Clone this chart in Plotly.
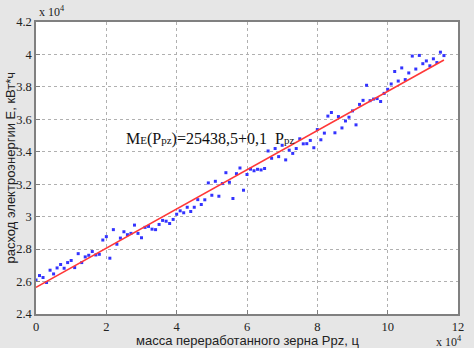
import plotly.graph_objects as go

# Values read in units of 10^4
mass_1e4 = [round(i * 0.1, 1) for i in range(117)]
energy_1e4 = [
    2.610, 2.637, 2.625, 2.594, 2.670, 2.647, 2.684, 2.705, 2.682, 2.717,
    2.730, 2.686, 2.772, 2.717, 2.752, 2.762, 2.785, 2.764, 2.768, 2.856,
    2.877, 2.744, 2.920, 2.830, 2.868, 2.907, 2.889, 2.897, 2.948, 2.897,
    2.870, 2.934, 2.940, 2.923, 2.920, 2.952, 2.977, 2.972, 2.958, 2.983,
    3.015, 3.036, 3.024, 3.058, 3.032, 3.058, 3.105, 3.075, 3.104, 3.208,
    3.132, 3.218, 3.126, 3.204, 3.271, 3.212, 3.112, 3.265, 3.300, 3.163,
    3.260, 3.293, 3.283, 3.292, 3.288, 3.297, 3.405, 3.360, 3.420, 3.370,
    3.440, 3.350, 3.410, 3.390, 3.420, 3.480, 3.449, 3.450, 3.470, 3.425,
    3.537, 3.474, 3.515, 3.620, 3.642, 3.517, 3.617, 3.547, 3.590, 3.613,
    3.652, 3.566, 3.692, 3.717, 3.810, 3.715, 3.725, 3.728, 3.710, 3.760,
    3.785, 3.818, 3.895, 3.836, 3.917, 3.845, 3.886, 3.990, 3.910, 3.994,
    3.943, 3.960, 3.930, 3.973, 3.950, 4.014, 3.993,
]
mass = [v * 1e4 for v in mass_1e4]
energy = [v * 1e4 for v in energy_1e4]

fit_x = [0, 116000]
fit_y = [25640, 39660]

x_ticks = [0, 20000, 40000, 60000, 80000, 100000, 120000]
x_ticklabels = ["0", "2", "4", "6", "8", "10", "12"]
y_ticks = [24000, 26000, 28000, 30000, 32000, 34000, 36000, 38000, 40000, 42000]
y_ticklabels = ["2.4", "2.6", "2.8", "3", "3.2", "3.4", "3.6", "3.8", "4", "4.2"]

fig = go.Figure()
fig.add_trace(go.Scatter(x=mass, y=energy, mode="markers",
                         marker=dict(color="#3333ff", size=3, symbol="square"),
                         showlegend=False))
fig.add_trace(go.Scatter(x=fit_x, y=fit_y, mode="lines",
                         line=dict(color="#ff3838", width=1.6),
                         showlegend=False))

tickfont = dict(family="Liberation Serif", size=12.5, color="#222")
fig.update_layout(
    width=474, height=348,
    margin=dict(l=36, r=10, t=22, b=34),
    paper_bgcolor="#e6e6e6", plot_bgcolor="white",
    xaxis=dict(range=[0, 120000], tickvals=x_ticks, ticktext=x_ticklabels,
               showgrid=True, gridcolor="#b0b0b0", griddash="dot", gridwidth=1,
               zeroline=False, showline=True, linecolor="#808080", linewidth=1.5,
               mirror=True, ticks="inside", ticklen=4, tickcolor="#808080",
               tickfont=tickfont),
    yaxis=dict(range=[24000, 42000], tickvals=y_ticks, ticktext=y_ticklabels,
               showgrid=True, gridcolor="#b0b0b0", griddash="dot", gridwidth=1,
               zeroline=False, showline=True, linecolor="#808080", linewidth=1.5,
               mirror=True, ticks="inside", ticklen=4, tickcolor="#808080",
               tickfont=tickfont),
)

fig.add_annotation(text="масса переработанного зерна Ppz, ц", xref="paper", yref="paper",
                   x=0.5, y=0, yshift=-17, showarrow=False, yanchor="top",
                   font=dict(family="Liberation Sans", size=13, color="#222"))
fig.add_annotation(text="расход электроэнергии E, кВт*ч", xref="paper", yref="paper",
                   x=0, xshift=-17, y=0.5, textangle=-90, showarrow=False,
                   xanchor="right",
                   font=dict(family="Liberation Sans", size=13, color="#222"))
fig.add_annotation(text="x 10<sup>4</sup>", xref="paper", yref="paper",
                   x=0, y=1, xshift=1, yshift=1, xanchor="left", yanchor="bottom",
                   showarrow=False,
                   font=dict(family="Liberation Serif", size=12, color="#222"))
fig.add_annotation(text="x 10<sup>4</sup>", xref="paper", yref="paper",
                   x=1, y=0, xshift=6, yshift=-18, xanchor="right", yanchor="top",
                   showarrow=False,
                   font=dict(family="Liberation Serif", size=12, color="#222"))
fig.add_annotation(
    text="M<span style='font-size:11px'>E</span>(P<span style='font-size:11px'>pz</span>)=25438,5+0,1  P<span style='font-size:11px'>pz</span>",
    x=25000, y=34800, xanchor="left", yanchor="middle", showarrow=False,
    font=dict(family="Liberation Serif", size=16, color="#111"))

fig.write_html("out.html")
